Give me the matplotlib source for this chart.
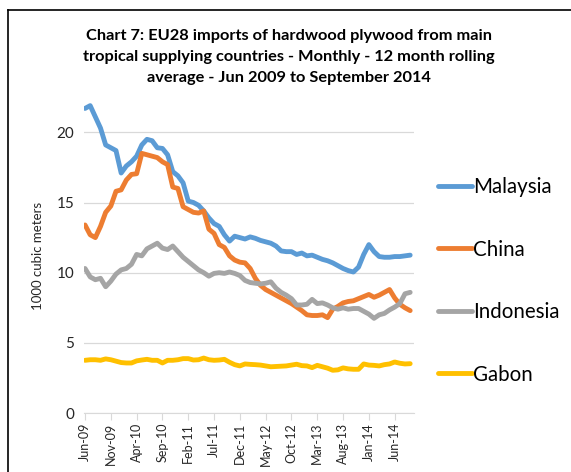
import matplotlib
matplotlib.use("Agg")
import matplotlib.pyplot as plt
from matplotlib.lines import Line2D
import numpy as np

#--------------------------------------------#
                #DATA (1000 m3, Jun-09 .. Sep-14)
#--------------------------------------------#

malaysia = [21.7, 21.9, 21.1, 20.3, 19.1, 18.9, 18.7, 17.1, 17.6, 17.9,
            18.3, 19.1, 19.5, 19.4, 18.9, 18.85, 18.4, 17.2, 16.9, 16.4,
            15.1, 15.0, 14.8, 14.4, 13.9, 13.5, 13.3, 12.7, 12.25, 12.6,
            12.5, 12.4, 12.55, 12.45, 12.3, 12.2, 12.1, 11.9, 11.55, 11.5,
            11.5, 11.3, 11.4, 11.2, 11.25, 11.1, 10.95, 10.85, 10.7, 10.5,
            10.3, 10.15, 10.05, 10.4, 11.3, 12.0, 11.5, 11.15, 11.1, 11.1,
            11.15, 11.15, 11.2, 11.25]

china = [13.4, 12.7, 12.5, 13.3, 14.3, 14.75, 15.8, 15.9, 16.6, 17.0,
         17.05, 18.5, 18.4, 18.3, 18.2, 17.9, 17.7, 16.1, 16.0, 14.7,
         14.5, 14.3, 14.25, 14.4, 13.1, 12.8, 12.0, 11.8, 11.2, 10.9,
         10.75, 10.7, 10.3, 9.6, 9.1, 8.8, 8.6, 8.4, 8.2, 8.0,
         7.8, 7.55, 7.3, 7.0, 6.95, 6.95, 7.0, 6.8, 7.4, 7.6,
         7.85, 7.95, 8.0, 8.15, 8.3, 8.45, 8.25, 8.4, 8.6, 8.8,
         8.2, 7.75, 7.5, 7.3]

indonesia = [10.3, 9.7, 9.5, 9.6, 9.0, 9.4, 9.9, 10.2, 10.3, 10.6,
             11.3, 11.2, 11.7, 11.9, 12.1, 11.75, 11.65, 11.9, 11.5, 11.1,
             10.8, 10.5, 10.2, 10.0, 9.75, 9.95, 10.0, 9.95, 10.05, 9.95,
             9.8, 9.45, 9.3, 9.25, 9.2, 9.25, 9.35, 8.9, 8.6, 8.4,
             8.15, 7.7, 7.7, 7.75, 8.1, 7.8, 7.85, 7.7, 7.5, 7.4,
             7.5, 7.4, 7.45, 7.45, 7.25, 7.05, 6.75, 7.0, 7.1, 7.35,
             7.55, 7.8, 8.5, 8.6]

gabon = [3.76, 3.8, 3.8, 3.76, 3.86, 3.8, 3.7, 3.6, 3.57, 3.57,
         3.72, 3.78, 3.83, 3.76, 3.76, 3.57, 3.76, 3.76, 3.8, 3.88,
         3.88, 3.78, 3.8, 3.92, 3.8, 3.76, 3.78, 3.83, 3.62, 3.45,
         3.36, 3.5, 3.47, 3.45, 3.42, 3.36, 3.3, 3.32, 3.34, 3.36,
         3.42, 3.48, 3.38, 3.36, 3.24, 3.4, 3.3, 3.2, 3.05, 3.08,
         3.22, 3.15, 3.12, 3.12, 3.5, 3.42, 3.4, 3.36, 3.45, 3.5,
         3.64, 3.55, 3.5, 3.52]

tick_labels = ["Jun-09", "Nov-09", "Apr-10", "Sep-10", "Feb-11", "Jul-11", "Dec-11",
               "May-12", "Oct-12", "Mar-13", "Aug-13", "Jan-14", "Jun-14"]

series = [("Malaysia", malaysia, "#5B9BD5"),
          ("China", china, "#ED7D31"),
          ("Indonesia", indonesia, "#A5A5A5"),
          ("Gabon", gabon, "#FFC000")]

#--------------------------------------------#

plt.rcParams['font.family'] = ['Lato', 'DejaVu Sans']

fig = plt.figure(figsize=(5.71, 4.72), dpi=100)
ax = fig.add_axes([0.1471, 0.1248, 0.578, 0.6633])

months = np.arange(len(malaysia))
for name, vals, col in series:
    ax.plot(months, vals, color=col, lw=3.5, label=name,
            solid_capstyle="round", solid_joinstyle="round")

ax.set_xlim(-0.2, 63.75)
ax.set_ylim(0, 22.3)
ax.set_yticks([0, 5, 10, 15, 20])
ax.set_xticks(np.arange(0, len(months), 5))
ax.set_xticklabels(tick_labels, rotation=90, fontsize=9, color="#262626")

ax.grid(axis="y", color="#D9D9D9", lw=0.9)
ax.set_axisbelow(True)
for s in ["top", "right", "left"]:
    ax.spines[s].set_visible(False)
ax.spines["bottom"].set_color("#D9D9D9")
ax.tick_params(axis="y", length=0, pad=7, labelsize=11, labelcolor="#262626")
ax.tick_params(axis="x", length=5, color="#D9D9D9", pad=2)

fig.text(0.506, 1-57/472,
         "Chart 7: EU28 imports of hardwood plywood from main\n"
         "tropical supplying countries - Monthly - 12 month rolling\n"
         "average - Jun 2009 to September 2014",
         ha="center", va="center", fontsize=11.8, fontweight="bold",
         linespacing=1.65, color="#000000")

fig.text(38/571, 1-256/472, "1000 cubic meters", rotation=90,
         ha="center", va="center", fontsize=9.5, color="#262626")

ax.legend(loc="upper left", bbox_to_anchor=(438/571, 1-177/472),
          bbox_transform=fig.transFigure, frameon=False, fontsize=14.8,
          handlelength=1.65, handletextpad=0.05, labelspacing=2.07,
          borderpad=0, borderaxespad=0)

# frame around the chart (left and top edges visible)
fig.add_artist(Line2D([8/571, 8/571], [0, 1-10/472], color="black", lw=1.2))
fig.add_artist(Line2D([8/571, 1], [1-10/472, 1-10/472], color="black", lw=1.2))

plt.savefig("out.png", dpi=100)
